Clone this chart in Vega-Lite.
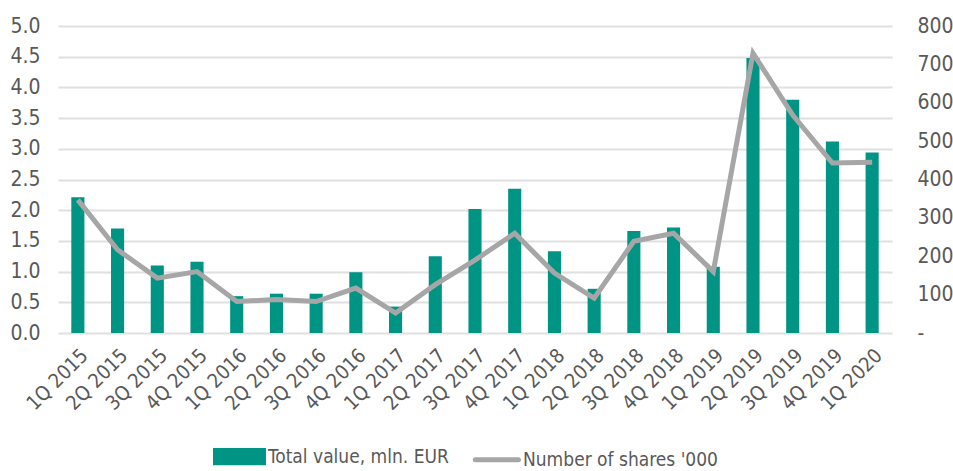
{
  "$schema": "https://vega.github.io/schema/vega-lite/v6.json",
  "width": 834,
  "height": 307,
  "autosize": "none",
  "padding": {"left": 58, "top": 26, "right": 61, "bottom": 138},
  "background": "white",
  "config": {
    "view": {"stroke": null},
    "font": "DejaVu Sans Condensed, Liberation Sans",
    "axis": {"labelFont": "DejaVu Sans Condensed, Liberation Sans", "labelColor": "#595959", "domain": false, "ticks": false}
  },
  "data": {
    "values": [
      {"q": "1Q 2015", "value": 2.21, "shares": 347},
      {"q": "2Q 2015", "value": 1.70, "shares": 217},
      {"q": "3Q 2015", "value": 1.10, "shares": 143},
      {"q": "4Q 2015", "value": 1.16, "shares": 160},
      {"q": "1Q 2016", "value": 0.60, "shares": 82},
      {"q": "2Q 2016", "value": 0.64, "shares": 87},
      {"q": "3Q 2016", "value": 0.64, "shares": 82},
      {"q": "4Q 2016", "value": 0.99, "shares": 117},
      {"q": "1Q 2017", "value": 0.43, "shares": 52},
      {"q": "2Q 2017", "value": 1.25, "shares": 126},
      {"q": "3Q 2017", "value": 2.02, "shares": 190},
      {"q": "4Q 2017", "value": 2.35, "shares": 260},
      {"q": "1Q 2018", "value": 1.33, "shares": 156},
      {"q": "2Q 2018", "value": 0.72, "shares": 91},
      {"q": "3Q 2018", "value": 1.66, "shares": 239},
      {"q": "4Q 2018", "value": 1.72, "shares": 260},
      {"q": "1Q 2019", "value": 1.08, "shares": 160},
      {"q": "2Q 2019", "value": 4.48, "shares": 729},
      {"q": "3Q 2019", "value": 3.80, "shares": 568},
      {"q": "4Q 2019", "value": 3.12, "shares": 443},
      {"q": "1Q 2020", "value": 2.94, "shares": 445}
    ]
  },
  "encoding": {
    "x": {
      "field": "q", "type": "ordinal", "sort": null,
      "scale": {"paddingInner": 0.67, "paddingOuter": 0.335},
      "axis": {"title": null, "labelAngle": -45, "labelFontSize": 20, "labelPadding": 12, "grid": false}
    }
  },
  "layer": [
    {
      "mark": {"type": "bar", "color": "#009485"},
      "encoding": {
        "y": {
          "field": "value", "type": "quantitative",
          "scale": {"domain": [0, 5], "nice": false},
          "axis": {"title": null, "values": [0, 0.5, 1, 1.5, 2, 2.5, 3, 3.5, 4, 4.5, 5], "format": ".1f", "labelFontSize": 21, "labelPadding": 18, "grid": true, "gridColor": "#E0E0E0", "gridWidth": 2}
        },
        "color": {
          "datum": "Total value, mln. EUR", "type": "nominal",
          "scale": {"domain": ["Total value, mln. EUR", "Number of shares '000"], "range": ["#009485", "#A6A6A6"]},
          "legend": {
            "title": null, "orient": "none", "legendX": 155, "legendY": 404, "direction": "horizontal",
            "labelFontSize": 19, "labelColor": "#595959", "labelFont": "DejaVu Sans Condensed, Liberation Sans",
            "labelLimit": 400,
            "symbolSize": 2300, "columnPadding": 16, "labelOffset": 2,
            "encode": {
              "symbols": {
                "update": {
                  "shape": {"signal": "datum.value == 'Total value, mln. EUR' ? 'M-1,-0.26L1,-0.26L1,0.26L-1,0.26Z' : 'M-0.8,0L1,0'"},
                  "fill": {"signal": "datum.value == 'Total value, mln. EUR' ? '#009485' : 'transparent'"},
                  "stroke": {"signal": "datum.value == 'Total value, mln. EUR' ? 'transparent' : '#A6A6A6'"},
                  "strokeWidth": {"value": 5},
                  "strokeCap": {"value": "round"},
                  "opacity": {"value": 1}
                }
              }
            }
          }
        }
      }
    },
    {
      "mark": {"type": "line", "strokeWidth": 5, "color": "#A6A6A6"},
      "encoding": {
        "y": {
          "field": "shares", "type": "quantitative",
          "scale": {"domain": [0, 800], "nice": false},
          "axis": {"title": null, "orient": "right", "values": [0, 100, 200, 300, 400, 500, 600, 700, 800], "labelExpr": "datum.value == 0 ? '-' : datum.label", "labelAlign": "left", "labelFontSize": 21, "labelPadding": 25, "grid": false}
        },
        "color": {"datum": "Number of shares '000", "type": "nominal"}
      }
    }
  ],
  "resolve": {"scale": {"y": "independent"}}
}
